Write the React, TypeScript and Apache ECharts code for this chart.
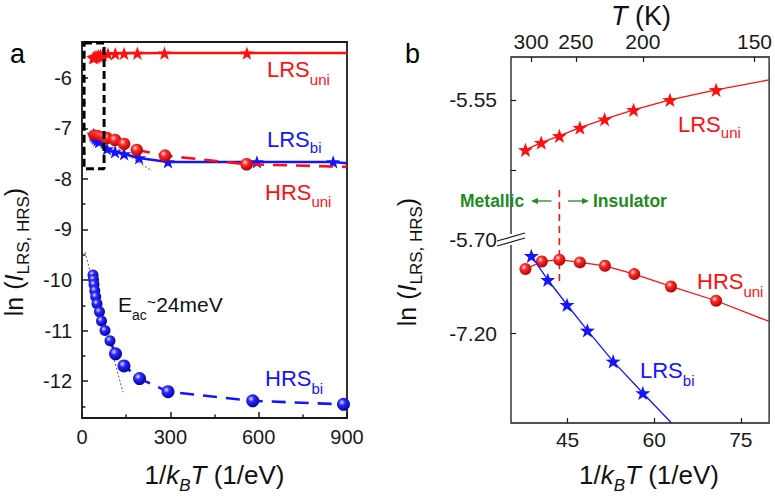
import React, { useEffect, useRef } from 'react';
import * as echarts from 'echarts';

const FONT = '"Liberation Sans", Arial, Helvetica, sans-serif';
const RED = '#ff1010';
const BLUE = '#1414ff';
const GREEN = '#1f8a1f';
const INK = '#1a1a1a';
const KB = 8.617e-5; // eV/K

// ---------- Panel (b): zoom near room temperature, x = 1/kBT (1/eV) ----------
const lrsUniX = [37.70, 40.44, 43.58, 47.13, 51.41, 56.43, 62.73, 70.72];
const lrsUniY = [-5.6036, -5.5958, -5.5886, -5.5797, -5.5707, -5.5607, -5.5500, -5.5393];
const lrsUniFitEndB = [79.9, -5.5286];

const hrsUniX = [37.70, 40.54, 43.58, 47.13, 51.47, 56.55, 62.90, 70.72];
const hrsUniY = [-7.1314, -7.1233, -7.1214, -7.1243, -7.1279, -7.1368, -7.1501, -7.1654];
const hrsUniFitEndB = [79.9, -7.1876];

const lrsBiX = [38.73, 41.57, 44.90, 48.43, 52.89, 58.03];
const lrsBiY = [-7.1172, -7.1429, -7.1697, -7.1972, -7.2304, -7.2643];
const lrsBiFitEndB = [63.0, -7.2965];

// metallic / insulator boundary
const boundaryX = 43.58;
const boundaryY = [-5.6465, -7.145];

// ---------- Panel (a): full range, extra low-temperature points ----------
const lrsUniLowX = [88, 113, 143, 188, 280, 560];
const lrsUniLowY = [-5.525, -5.52, -5.515, -5.512, -5.51, -5.51];
const lrsUniEndA = [900, -5.51];

const hrsUniLowX = [84, 112, 143, 186, 282, 559];
const hrsUniLowY = [-7.19, -7.228, -7.307, -7.426, -7.538, -7.709];
const hrsUniEndA = [900, -7.76];

const lrsBiLowX = [85, 112, 143, 194, 292, 594, 853];
const lrsBiLowY = [-7.406, -7.465, -7.505, -7.584, -7.663, -7.663, -7.663];
const lrsBiEndA = [900, -7.69];

const hrsBiX = [37.4, 39.1, 40.8, 43.5, 46.5, 50.9, 59.4, 66.2, 78.1, 95.1, 113.8, 142.6, 195.3, 292.1, 579.8, 888];
const hrsBiY = [-9.90, -9.99, -10.09, -10.21, -10.33, -10.47, -10.63, -10.81, -11.00, -11.20, -11.46, -11.70, -11.95, -12.21, -12.39, -12.46];
const hrsBiEndA = [900, -12.465];

// activation-energy fit (dotted) and LRS_bi slope (dotted)
const eacFitX = [10, 139];
const eacFitY = [-9.446, -12.218];
const lrsBiSlopeX = [100, 238];
const lrsBiSlopeY = [-7.32, -7.842];

// dashed box marking the zoomed region
const zoomBoxX = [7, 75];
const zoomBoxY = [-5.31, -7.80];

// ---------- ticks ----------
const aXMin = 0, aXMax = 900, aXInterval = 300;
const aYMin = -12.73, aYMax = -5.29;
const aYMajor = [-12, -11, -10, -9, -8, -7, -6];
const aYMinor = [-12.5, -11.5, -10.5, -9.5, -8.5, -7.5, -6.5, -5.5];

const bXMin = 35.2, bXMax = 79.9;
const bXTicks = [45, 60, 75];
const tempTicks = [300, 250, 200, 150]; // K, top axis
const BREAK_SHIFT = 1.40; // lower part of broken axis shifted up by this
const bYLabels = [-5.55, -5.70, -7.20];
const bYTicks = [-5.55, -5.625, -7.20];
const bYMin = -7.2965 + BREAK_SHIFT, bYMax = -5.504;

const brk = (v: number) => (v < -6.5 ? v + BREAK_SHIFT : v);
const unbrk = (v: number) => (v < -5.7005 ? v - BREAK_SHIFT : v);

const STAR = 'path://M0,-10L2.35,-3.24L9.51,-3.09L3.8,1.24L5.88,8.09L0,4L-5.88,8.09L-3.8,1.24L-9.51,-3.09L-2.35,-3.24Z';

const ball = (light: string, mid: string, dark: string) => ({
  type: 'radial', x: 0.38, y: 0.35, r: 0.68,
  colorStops: [
    { offset: 0, color: light },
    { offset: 0.35, color: mid },
    { offset: 1, color: dark },
  ],
});
const RED_BALL = ball('#ffe4e4', '#ff2a2a', '#b00000');
const BLUE_BALL = ball('#e6e6ff', '#2a2aff', '#0000a0');

const pts = (xs: number[], ys: number[], f = (v: number) => v) => xs.map((x, i) => [x, f(ys[i])]);
const endPt = (p: number[], f = (v: number) => v) => ({ value: [p[0], f(p[1])], symbol: 'none' });

function richText(x: number, baseline: number, text: string, fs: number, sfs: number, drop: number, fill: string, extra: any = {}) {
  const P = 0.85 * fs + drop - 0.85 * sfs;
  const base = { fontFamily: FONT, fill };
  return {
    type: 'text', x, y: baseline - 0.85 * fs, z: 100, silent: true,
    ...extra,
    style: {
      text, fill, fontFamily: FONT, fontSize: fs,
      align: extra.align || 'left', verticalAlign: 'top',
      textAlign: extra.align || 'left', textVerticalAlign: 'top',
      rich: {
        m: { ...base, fontSize: fs, lineHeight: fs, verticalAlign: 'top' },
        i: { ...base, fontSize: fs, lineHeight: fs, verticalAlign: 'top', fontStyle: 'italic' },
        s: { ...base, fontSize: sfs, lineHeight: sfs, verticalAlign: 'top', padding: [P, 0, 0, 0] },
        si: { ...base, fontSize: sfs, lineHeight: sfs, verticalAlign: 'top', padding: [P, 0, 0, 0], fontStyle: 'italic' },
        t: { ...base, fontSize: 16, lineHeight: 14, verticalAlign: 'top' },
      },
    },
  };
}

function buildOption(): any {
  const tPos = tempTicks.map((T) => 1 / (KB * T));
  const tickLbl = { fontFamily: FONT, color: INK };

  const lineBase = { type: 'line', silent: true, animation: false, showAllSymbol: true, emphasis: { disabled: true } };

  const series: any[] = [
    // ----- panel a -----
    {
      ...lineBase, xAxisIndex: 0, yAxisIndex: 0, symbol: 'none', z: 1,
      data: pts(eacFitX, eacFitY), lineStyle: { color: '#555', width: 1, type: [2, 2] },
    },
    {
      ...lineBase, xAxisIndex: 0, yAxisIndex: 0, symbol: 'none', z: 1,
      data: pts(lrsBiSlopeX, lrsBiSlopeY), lineStyle: { color: '#555', width: 1, type: [2, 2] },
    },
    {
      ...lineBase, xAxisIndex: 0, yAxisIndex: 0, z: 3,
      data: [...pts(hrsBiX, hrsBiY), endPt(hrsBiEndA)],
      symbol: 'circle', symbolSize: (v: number[]) => (v[0] < 100 ? 11 : 13),
      itemStyle: { color: BLUE_BALL },
      lineStyle: { color: BLUE, width: 2.6, type: [14, 9] },
    },
    {
      ...lineBase, xAxisIndex: 0, yAxisIndex: 0, z: 3,
      data: [...pts(lrsBiX, lrsBiY), ...pts(lrsBiLowX, lrsBiLowY), endPt(lrsBiEndA)],
      symbol: STAR, symbolKeepAspect: true, symbolSize: 14,
      itemStyle: { color: BLUE },
      lineStyle: { color: BLUE, width: 2.5 },
    },
    {
      ...lineBase, xAxisIndex: 0, yAxisIndex: 0, z: 4,
      data: [...pts(hrsUniX, hrsUniY), ...pts(hrsUniLowX, hrsUniLowY), endPt(hrsUniEndA)],
      symbol: 'circle', symbolSize: (v: number[]) => (v[0] < 80 ? 10 : 12.5),
      itemStyle: { color: RED_BALL },
      lineStyle: { color: RED, width: 2.6, type: [14, 9] },
    },
    {
      ...lineBase, xAxisIndex: 0, yAxisIndex: 0, z: 4,
      data: [...pts(lrsUniX, lrsUniY), ...pts(lrsUniLowX, lrsUniLowY), endPt(lrsUniEndA)],
      symbol: STAR, symbolKeepAspect: true, symbolSize: 14,
      itemStyle: { color: RED },
      lineStyle: { color: RED, width: 2.5 },
    },
    {
      ...lineBase, xAxisIndex: 0, yAxisIndex: 0, symbol: 'none', z: 6,
      data: [
        [zoomBoxX[0], zoomBoxY[0]], [zoomBoxX[1], zoomBoxY[0]],
        [zoomBoxX[1], zoomBoxY[1]], [zoomBoxX[0], zoomBoxY[1]], [zoomBoxX[0], zoomBoxY[0]],
      ],
      lineStyle: { color: '#000', width: 3, type: [8, 4] },
    },
    // ----- panel b -----
    {
      ...lineBase, xAxisIndex: 1, yAxisIndex: 2, symbol: 'none', z: 2,
      data: boundaryY.map((y) => [boundaryX, brk(y)]),
      lineStyle: { color: RED, width: 1.6, type: [7, 5] },
    },
    {
      ...lineBase, xAxisIndex: 1, yAxisIndex: 2, z: 4,
      data: [...pts(lrsUniX, lrsUniY, brk), endPt(lrsUniFitEndB, brk)],
      symbol: STAR, symbolKeepAspect: true, symbolSize: 15,
      itemStyle: { color: RED }, lineStyle: { color: RED, width: 1.3 },
    },
    {
      ...lineBase, xAxisIndex: 1, yAxisIndex: 2, z: 4,
      data: [...pts(hrsUniX, hrsUniY, brk), endPt(hrsUniFitEndB, brk)],
      symbol: 'circle', symbolSize: 12,
      itemStyle: { color: RED_BALL }, lineStyle: { color: RED, width: 1.3 },
    },
    {
      ...lineBase, xAxisIndex: 1, yAxisIndex: 2, z: 5,
      data: [...pts(lrsBiX, lrsBiY, brk), endPt(lrsBiFitEndB, brk)],
      symbol: STAR, symbolKeepAspect: true, symbolSize: 15,
      itemStyle: { color: BLUE }, lineStyle: { color: BLUE, width: 1.3 },
    },
  ];

  const graphic: any[] = [
    // panel letters
    { type: 'text', x: 10, y: 40, z: 100, style: { text: 'a', fontSize: 27, fontFamily: FONT, fill: '#000' } },
    { type: 'text', x: 405, y: 40, z: 100, style: { text: 'b', fontSize: 27, fontFamily: FONT, fill: '#000' } },
    // panel a labels
    richText(267, 77.5, '{m|LRS}{s|uni}', 22, 15, 7, RED),
    richText(267, 147, '{m|LRS}{s|bi}', 22, 15, 6, BLUE),
    richText(265, 200, '{m|HRS}{s|uni}', 22, 15, 7, RED),
    richText(265, 386, '{m|HRS}{s|bi}', 22, 15, 8, BLUE),
    richText(118, 312, '{m|E}{s|ac}{t|~}{m|24meV}', 21, 14, 8, '#111'),
    // panel b labels
    richText(678, 131.7, '{m|LRS}{s|uni}', 22, 15, 6, RED),
    richText(697, 289.3, '{m|HRS}{s|uni}', 22, 15, 7, RED),
    richText(640, 378.3, '{m|LRS}{s|bi}', 22, 15, 7, BLUE),
    // axis titles
    richText(214.5, 484, '{m|1/}{i|k}{si|B}{i|T}{m| (1/eV)}', 26, 17, 7, '#111', { align: 'center' }),
    richText(649, 484, '{m|1/}{i|k}{si|B}{i|T}{m| (1/eV)}', 26, 17, 7, '#111', { align: 'center' }),
    richText(641, 25, '{i|T}{m| (K)}', 27, 16, 0, '#111', { align: 'center' }),
    richText(1, 252, '{m|ln (}{i|I}{s|LRS, HRS}{m|)}', 25, 17, 7, '#111', { align: 'center', rotation: Math.PI / 2, x: 1, y: 252 }),
    richText(394, 262, '{m|ln (}{i|I}{s|LRS, HRS}{m|)}', 25, 17, 7, '#111', { align: 'center', rotation: Math.PI / 2, x: 394, y: 262 }),
    // metallic / insulator
    { type: 'text', x: 460, y: 201, z: 100, style: { text: 'Metallic', fontSize: 17.5, fontWeight: 'bold', fontFamily: FONT, fill: GREEN, verticalAlign: 'middle', textVerticalAlign: 'middle' } },
    { type: 'text', x: 593, y: 201, z: 100, style: { text: 'Insulator', fontSize: 17.5, fontWeight: 'bold', fontFamily: FONT, fill: GREEN, verticalAlign: 'middle', textVerticalAlign: 'middle' } },
    { type: 'line', z: 100, shape: { x1: 551.5, y1: 201, x2: 536, y2: 201 }, style: { stroke: GREEN, lineWidth: 1.3 } },
    { type: 'polygon', z: 100, shape: { points: [[531, 201], [538, 198], [538, 204]] }, style: { fill: GREEN } },
    { type: 'line', z: 100, shape: { x1: 568, y1: 201, x2: 583, y2: 201 }, style: { stroke: GREEN, lineWidth: 1.3 } },
    { type: 'polygon', z: 100, shape: { points: [[589, 201], [582, 198], [582, 204]] }, style: { fill: GREEN } },
    // axis break marks
    { type: 'rect', z: 99, shape: { x: 506, y: 234, width: 10, height: 11 }, style: { fill: '#fff' } },
    { type: 'line', z: 100, shape: { x1: 497, y1: 241, x2: 525, y2: 233 }, style: { stroke: INK, lineWidth: 1.2 } },
    { type: 'line', z: 100, shape: { x1: 497, y1: 246, x2: 525, y2: 238 }, style: { stroke: INK, lineWidth: 1.2 } },
  ];

  return {
    animation: false,
    backgroundColor: '#fff',
    grid: [
      { left: 82, top: 42, width: 265, height: 376, show: true, borderColor: INK, borderWidth: 1.8, backgroundColor: 'transparent' },
      { left: 511, top: 57, width: 261, height: 366, show: true, borderColor: INK, borderWidth: 1.3, backgroundColor: 'transparent' },
    ],
    xAxis: [
      {
        type: 'value', gridIndex: 0, min: aXMin, max: aXMax, interval: aXInterval,
        axisLine: { show: false }, splitLine: { show: false },
        axisTick: { inside: true, length: 6, lineStyle: { color: INK, width: 1.5 } },
        minorTick: { show: true, splitNumber: 2, length: 3.5, lineStyle: { color: INK, width: 1.5 } },
        axisLabel: { ...tickLbl, fontSize: 20, margin: 9 },
      },
      {
        type: 'value', gridIndex: 1, min: bXMin, max: bXMax,
        axisLine: { show: false }, splitLine: { show: false },
        axisTick: { inside: true, length: 5, customValues: bXTicks, lineStyle: { color: INK, width: 1.2 } },
        axisLabel: { ...tickLbl, fontSize: 21, margin: 6, customValues: bXTicks },
      },
      {
        type: 'value', gridIndex: 1, position: 'top', min: bXMin, max: bXMax,
        axisLine: { show: false }, splitLine: { show: false },
        axisTick: { inside: true, length: 5, customValues: tPos, lineStyle: { color: INK, width: 1.2 } },
        axisLabel: {
          ...tickLbl, fontSize: 21, margin: 5, customValues: tPos,
          formatter: (v: number) => {
            let best = 0;
            tPos.forEach((p, i) => { if (Math.abs(p - v) < Math.abs(tPos[best] - v)) best = i; });
            return String(tempTicks[best]);
          },
        },
      },
    ],
    yAxis: [
      {
        type: 'value', gridIndex: 0, min: aYMin, max: aYMax,
        axisLine: { show: false }, splitLine: { show: false },
        axisTick: { inside: true, length: 6, customValues: aYMajor, lineStyle: { color: INK, width: 1.5 } },
        axisLabel: { ...tickLbl, fontSize: 20, margin: 10, customValues: aYMajor },
      },
      {
        type: 'value', gridIndex: 0, min: aYMin, max: aYMax, position: 'left',
        axisLine: { show: false }, splitLine: { show: false },
        axisTick: { inside: true, length: 3.5, customValues: aYMinor, lineStyle: { color: INK, width: 1.5 } },
        axisLabel: { show: false },
      },
      {
        type: 'value', gridIndex: 1, min: bYMin, max: bYMax,
        axisLine: { show: false }, splitLine: { show: false },
        axisTick: { inside: true, length: 5, customValues: bYTicks.map(brk), lineStyle: { color: INK, width: 1.2 } },
        axisLabel: {
          ...tickLbl, fontSize: 21, margin: 14, customValues: bYLabels.map(brk),
          formatter: (v: number) => unbrk(v).toFixed(2),
        },
      },
    ],
    series,
    graphic,
  };
}

export default function App() {
  const ref = useRef<HTMLDivElement>(null);
  useEffect(() => {
    if (!ref.current) return;
    const chart = echarts.init(ref.current, null, { renderer: 'svg' });
    chart.setOption(buildOption());
    return () => chart.dispose();
  }, []);
  return (
    <div
      ref={ref}
      style={{ position: 'fixed', left: 0, top: 0, width: 775, height: 500, background: '#fff' }}
    />
  );
}
